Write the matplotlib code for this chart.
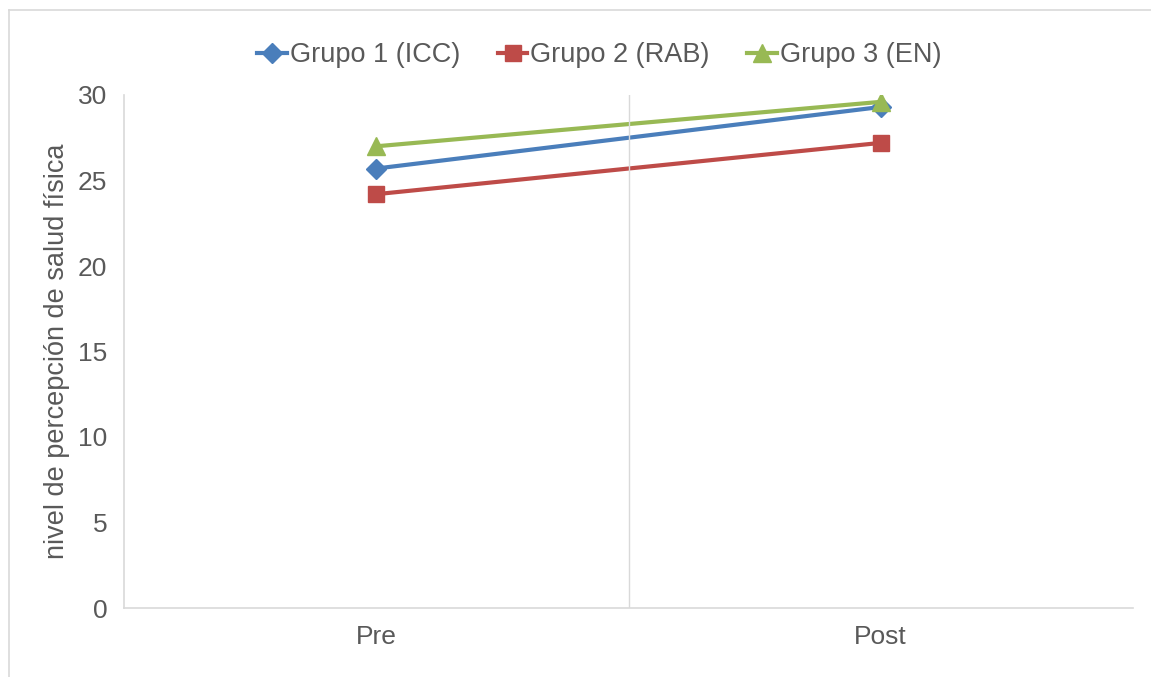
import matplotlib.pyplot as plt
from matplotlib.lines import Line2D

# Data
momentos = ['Pre', 'Post']
grupo1 = [25.7, 29.3]   # Grupo 1 (ICC)
grupo2 = [24.2, 27.2]   # Grupo 2 (RAB)
grupo3 = [27.0, 29.6]   # Grupo 3 (EN)
yticks = [0, 5, 10, 15, 20, 25, 30]

plt.rcParams['font.family'] = ['Liberation Sans', 'DejaVu Sans']
gris = '#595959'

fig = plt.figure(figsize=(11.51, 6.77), dpi=100)
ax = fig.add_axes([124 / 1151, 1 - 608 / 677, 1009 / 1151, 513 / 677])

x = list(range(len(momentos)))
ax.plot(x, grupo1, color='#4a7ebb', lw=3, marker='D', ms=10, label='Grupo 1 (ICC)')
ax.plot(x, grupo2, color='#be4b48', lw=3, marker='s', ms=12, label='Grupo 2 (RAB)')
ax.plot(x, grupo3, color='#98b954', lw=3, marker='^', ms=13, label='Grupo 3 (EN)')

ax.set_xlim(-0.5, 1.5)
ax.set_ylim(0, 30)
ax.set_xticks(x)
ax.set_xticklabels(momentos)
ax.set_yticks(yticks)
ax.tick_params(length=0, labelsize=19, colors=gris)
ax.tick_params(axis='x', pad=12)
ax.tick_params(axis='y', pad=12)

# separator between categories
ax.axvline(0.5, color='#d9d9d9', lw=1)

for s in ['top', 'right']:
    ax.spines[s].set_visible(False)
for s in ['left', 'bottom']:
    ax.spines[s].set_color('#d9d9d9')
    ax.spines[s].set_linewidth(1.2)

ax.set_ylabel('nivel de percepción de salud física', fontsize=19.5, color=gris, labelpad=6)

ax.legend(loc='center', bbox_to_anchor=(0.471, 1.078), ncol=3, frameon=False,
          fontsize=19.5, labelcolor=gris, handlelength=1.1, handletextpad=0.1,
          columnspacing=1.4, borderpad=0)

# outer chart border (left and top visible)
fig.add_artist(Line2D([9 / 1151, 9 / 1151], [0, 1 - 10 / 677], color='#d9d9d9', lw=1.2))
fig.add_artist(Line2D([9 / 1151, 1], [1 - 10 / 677, 1 - 10 / 677], color='#d9d9d9', lw=1.2))

fig.savefig('out.png', dpi=100)
